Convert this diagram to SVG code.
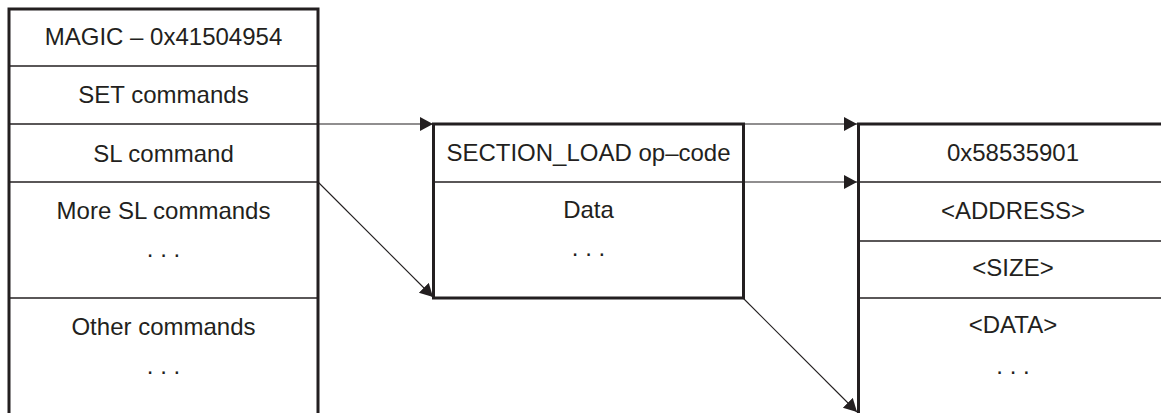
<svg xmlns="http://www.w3.org/2000/svg" width="1161" height="413" viewBox="0 0 1161 413">
<style>
.frame{fill:none;stroke:#231f20;stroke-width:3}
.div{fill:none;stroke:#231f20;stroke-width:1.3}
.conn{fill:none;stroke:#231f20;stroke-width:1.1}
text{font-family:"Liberation Sans",Arial,sans-serif;font-size:24px;fill:#231f20;text-anchor:middle}
</style>
<defs>
<marker id="arr" markerUnits="userSpaceOnUse" markerWidth="14" markerHeight="15" refX="13" refY="7" orient="auto">
<path d="M0,0 L13,7 L0,14 Z" fill="#231f20"/>
</marker>
</defs>
<rect width="1161" height="413" fill="#fff"/>
<g id="connectors">
<line class="conn" x1="318" y1="124" x2="433" y2="124" marker-end="url(#arr)"/>
<line class="conn" x1="318" y1="182" x2="433" y2="297" marker-end="url(#arr)"/>
<line class="conn" x1="743" y1="124" x2="857" y2="124" marker-end="url(#arr)"/>
<line class="conn" x1="743" y1="182" x2="857" y2="182" marker-end="url(#arr)"/>
<line class="conn" x1="743" y1="298" x2="857" y2="412" marker-end="url(#arr)"/>
</g>
<g id="command-stream">
<line class="div" x1="9" y1="66" x2="318" y2="66"/>
<line class="div" x1="9" y1="124" x2="318" y2="124"/>
<line class="div" x1="9" y1="182" x2="318" y2="182"/>
<line class="div" x1="9" y1="298" x2="318" y2="298"/>
<path class="frame" d="M9,415 V9 H318 V415"/>
<text x="163.5" y="45">MAGIC – 0x41504954</text>
<text x="163.5" y="103">SET commands</text>
<text x="163.5" y="162">SL command</text>
<text x="163.5" y="219">More SL commands</text>
<text x="163.5" y="257">. . .</text>
<text x="163.5" y="335">Other commands</text>
<text x="163.5" y="374">. . .</text>
</g>
<g id="sl-command">
<line class="div" x1="433.5" y1="182" x2="743.5" y2="182"/>
<rect class="frame" x="433.5" y="124" width="310" height="174"/>
<text x="588.5" y="161">SECTION_LOAD op–code</text>
<text x="588.5" y="218">Data</text>
<text x="588.5" y="256">. . .</text>
</g>
<g id="section-data">
<line class="div" x1="858.5" y1="182" x2="1165" y2="182"/>
<line class="div" x1="858.5" y1="241" x2="1165" y2="241"/>
<line class="div" x1="858.5" y1="298" x2="1165" y2="298"/>
<path class="frame" d="M858.5,415 V124 H1165"/>
<text x="1013" y="161">0x58535901</text>
<text x="1013" y="219">&lt;ADDRESS&gt;</text>
<text x="1013" y="276">&lt;SIZE&gt;</text>
<text x="1013" y="333">&lt;DATA&gt;</text>
<text x="1013" y="374">. . .</text>
</g>
</svg>
